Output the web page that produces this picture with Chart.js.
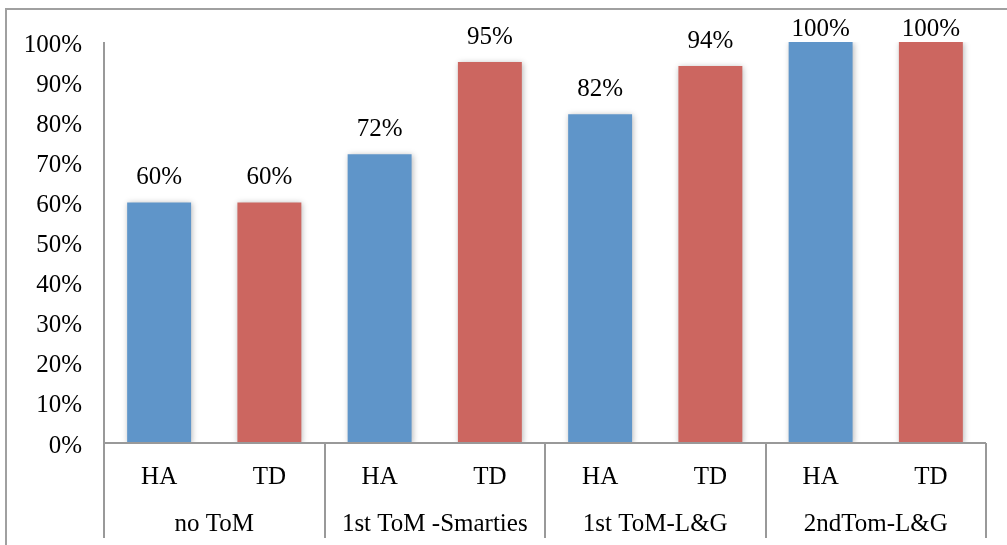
<!DOCTYPE html>
<html>
<head>
<meta charset="utf-8">
<script src="https://cdn.jsdelivr.net/npm/chart.js@4"></script>
<style>
html,body{margin:0;padding:0;background:#fff;}
#wrap{width:1007px;height:545px;position:relative;}
</style>
</head>
<body>
<div id="wrap"><canvas id="c" width="1007" height="545"></canvas></div>
<script>
const groups = ['no ToM', '1st ToM -Smarties', '1st ToM-L&G', '2ndTom-L&G'];
const subLabels = ['HA', 'TD'];
const haValues = [60, 72, 82, 100];
const tdValues = [60, 95, 94, 100];
const yTicks = [0, 10, 20, 30, 40, 50, 60, 70, 80, 90, 100];

const BLUE = '#5F95C9';
const RED = '#CC6660';
const AXIS = '#999999';
const FONT = '"Liberation Serif", "Times New Roman", serif';
const FSIZE = 25;

const labels = [];
const values = [];
const colors = [];
groups.forEach((g, i) => {
  labels.push(g + ' HA'); values.push(haValues[i]); colors.push(BLUE);
  labels.push(g + ' TD'); values.push(tdValues[i]); colors.push(RED);
});

const shadowPlugin = {
  id: 'shadow',
  beforeDatasetsDraw(chart) {
    const ctx = chart.ctx;
    ctx.save();
    ctx.shadowColor = 'rgba(0,0,0,0.28)';
    ctx.shadowBlur = 6;
    ctx.shadowOffsetX = 1;
    ctx.shadowOffsetY = 1;
  },
  afterDatasetsDraw(chart) {
    chart.ctx.restore();
  }
};

const decoPlugin = {
  id: 'deco',
  afterDraw(chart) {
    const ctx = chart.ctx;
    const area = chart.chartArea;
    const x = chart.scales.x;
    ctx.save();
    // outer frame
    ctx.strokeStyle = '#A0A0A0';
    ctx.lineWidth = 2;
    ctx.beginPath();
    ctx.moveTo(6, 560);
    ctx.lineTo(6, 9);
    ctx.lineTo(1020, 9);
    ctx.stroke();

    // axes
    ctx.strokeStyle = AXIS;
    ctx.lineWidth = 2;
    ctx.beginPath();
    ctx.moveTo(area.left, area.top);
    ctx.lineTo(area.left, area.bottom);
    ctx.lineTo(area.right, area.bottom);
    ctx.stroke();

    // group separators
    const n = values.length;
    const step = (area.right - area.left) / n;
    ctx.beginPath();
    for (let g = 0; g <= groups.length; g++) {
      const px = Math.round(area.left + g * 2 * step);
      ctx.moveTo(px, area.bottom);
      ctx.lineTo(px, 538);
    }
    ctx.stroke();

    // category labels
    ctx.fillStyle = '#000';
    ctx.font = FSIZE + 'px ' + FONT;
    ctx.textAlign = 'center';
    ctx.textBaseline = 'middle';
    for (let i = 0; i < n; i++) {
      ctx.fillText(subLabels[i % 2], x.getPixelForValue(i), 477);
    }
    groups.forEach((g, gi) => {
      const cx = (x.getPixelForValue(gi * 2) + x.getPixelForValue(gi * 2 + 1)) / 2;
      ctx.fillText(g, cx, 524);
    });

    // value labels
    const meta = chart.getDatasetMeta(0);
    meta.data.forEach((bar, i) => {
      const y = Math.max(bar.y - 25, 29);
      ctx.fillText(values[i] + '%', bar.x, y);
    });
    ctx.restore();
  }
};

new Chart(document.getElementById('c'), {
  type: 'bar',
  data: {
    labels: labels,
    datasets: [{
      data: values,
      backgroundColor: colors,
      borderWidth: 0,
      categoryPercentage: 1.0,
      barPercentage: 0.58
    }]
  },
  options: {
    responsive: false,
    animation: false,
    devicePixelRatio: 1,
    layout: { padding: { top: 42, right: 21, bottom: 102, left: 0 } },
    plugins: { legend: { display: false }, tooltip: { enabled: false } },
    scales: {
      x: { display: false },
      y: {
        min: 0, max: 100,
        afterFit(scale) { scale.width = 104; },
        afterBuildTicks(scale) { scale.ticks = yTicks.map(v => ({ value: v })); },
        grid: { display: false, drawTicks: false },
        border: { display: false },
        ticks: {
          color: '#000',
          font: { family: FONT, size: FSIZE },
          padding: 22,
          labelOffset: 3,
          callback: v => v + '%'
        }
      }
    }
  },
  plugins: [shadowPlugin, decoPlugin]
});
</script>
</body>
</html>
